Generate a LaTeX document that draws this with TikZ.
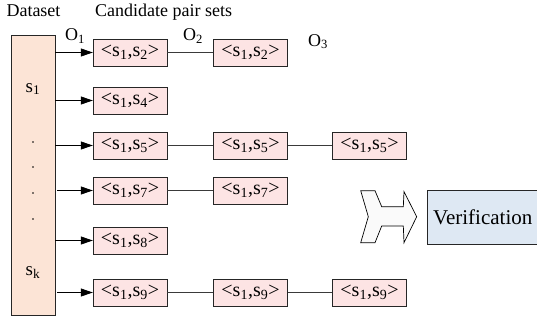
\documentclass[tikz,border=0pt]{standalone}
\usepackage{fontspec}
\setmainfont{Liberation Serif}
\newfontfamily\tnr{Liberation Serif}
\usetikzlibrary{arrows.meta}
\definecolor{dsfill}{HTML}{FCE4D6}
\definecolor{pairfill}{HTML}{FDE4E4}
\definecolor{verfill}{HTML}{DEE8F3}
\definecolor{linegray}{HTML}{3A3A3A}
\tikzset{
  pairbox/.style={draw=black!85, fill=pairfill, minimum width=74pt, minimum height=27pt, inner sep=0pt, font=\tnr\fontsize{20}{20}\selectfont},
  lbl/.style={font=\tnr\fontsize{18}{18}\selectfont, inner sep=0pt},
  feed/.style={draw=black, -{Triangle[length=12pt,width=8pt]}, line width=0.8pt},
  link/.style={draw=linegray, line width=0.8pt},
  dotmark/.style={circle, fill=black, inner sep=0pt, minimum size=1.8pt}
}
\begin{document}
\begin{tikzpicture}[x=1pt,y=-1pt]
\useasboundingbox (0,0) rectangle (537,321);
% headings
\node[lbl, anchor=base] (hds) at (33.5,17) {Dataset};
\node[lbl, anchor=base west] (hcp) at (95,17) {Candidate pair sets};
\node[lbl, anchor=base west] (o1) at (65,41) {O\textsubscript{1}};
\node[lbl, anchor=base west] (o2) at (183,41) {O\textsubscript{2}};
\node[lbl, anchor=base west] (o3) at (308,46) {O\textsubscript{3}};
% dataset column
\node[draw=black!85, fill=dsfill, minimum width=44pt, minimum height=280pt, inner sep=0pt] (ds) at (33,175) {};
\node[lbl, anchor=base, font=\tnr\fontsize{19}{19}\selectfont] (s1) at (33,92) {s\textsubscript{1}};
\node[lbl, anchor=base, font=\tnr\fontsize{19}{19}\selectfont] (sk) at (33,275) {s\textsubscript{k}};
\node[dotmark] (d1) at (33,142) {};
\node[dotmark] (d2) at (33,167) {};
\node[dotmark] (d3) at (33,193) {};
\node[dotmark] (d4) at (33,219) {};
% pair boxes
\node[pairbox] (r1a) at (130,52.5) {<s\textsubscript{1},s\textsubscript{2}>};
\node[pairbox] (r1b) at (250.5,52.5) {<s\textsubscript{1},s\textsubscript{2}>};
\node[pairbox] (r2a) at (130,100.5) {<s\textsubscript{1},s\textsubscript{4}>};
\node[pairbox] (r3a) at (130,145.5) {<s\textsubscript{1},s\textsubscript{5}>};
\node[pairbox] (r3b) at (250.5,145.5) {<s\textsubscript{1},s\textsubscript{5}>};
\node[pairbox] (r3c) at (369.5,145.5) {<s\textsubscript{1},s\textsubscript{5}>};
\node[pairbox] (r4a) at (130,190.5) {<s\textsubscript{1},s\textsubscript{7}>};
\node[pairbox] (r4b) at (250.5,190.5) {<s\textsubscript{1},s\textsubscript{7}>};
\node[pairbox] (r5a) at (130,240.5) {<s\textsubscript{1},s\textsubscript{8}>};
\node[pairbox] (r6a) at (130,292.5) {<s\textsubscript{1},s\textsubscript{9}>};
\node[pairbox] (r6b) at (250.5,292.5) {<s\textsubscript{1},s\textsubscript{9}>};
\node[pairbox] (r6c) at (369.5,292.5) {<s\textsubscript{1},s\textsubscript{9}>};
% feeding arrows
\draw[feed] (ds.east |- r1a.west) -- (r1a.west);
\draw[feed] (ds.east |- r2a.west) -- (r2a.west);
\draw[feed] (ds.east |- r3a.west) -- (r3a.west);
\draw[feed] ([xshift=2pt]ds.east |- r4a.west) -- (r4a.west);
\draw[feed] (ds.east |- r5a.west) -- (r5a.west);
\draw[feed] ([xshift=2pt]ds.east |- r6a.west) -- (r6a.west);
% links
\draw[link] (r1a) -- (r1b);
\draw[link] (r3a) -- (r3b);
\draw[link] (r3b) -- (r3c);
\draw[link] (r4a) -- (r4b);
\draw[link] (r6a) -- (r6b);
\draw[link] (r6b) -- (r6c);
% chevron arrow
\draw[fill=white!98!black, line width=0.7pt, line join=miter]
  (360.7,190.7) -- (375,190.7) -- (381.7,206.7) -- (403.3,206.7) -- (404,191.7)
  -- (416.7,216.7) -- (404,242.7) -- (403.3,226) -- (381.7,226) -- (375,242.7)
  -- (360.7,242.7) -- (368.3,216.7) -- cycle;
% verification
\node[draw=black!85, fill=verfill, anchor=west, minimum height=54pt, inner xsep=6pt, inner ysep=0pt, font=\tnr\fontsize{21}{21}\selectfont] (ver) at (427,217) {Verification};
\end{tikzpicture}
\end{document}
